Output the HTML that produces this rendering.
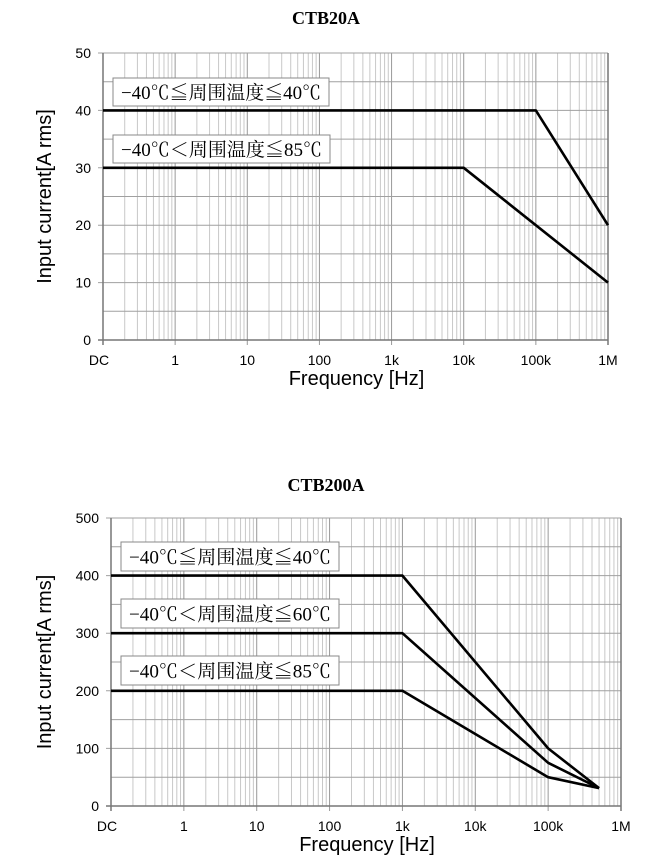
<!DOCTYPE html>
<html><head><meta charset="utf-8"><style>
body{margin:0;background:#fff;width:652px;height:862px;overflow:hidden}
svg{display:block}
.t{font-family:"Liberation Serif","Noto Serif CJK SC",serif;font-size:18px;font-weight:bold}
.tk{font-family:"Liberation Sans",sans-serif;font-size:14px}
.ax{font-family:"Liberation Sans",sans-serif;font-size:20px}
.lb{font-family:"Liberation Serif","Noto Serif CJK SC",serif;font-size:19px}
</style></head><body>
<svg id="s" width="652" height="862" xmlns="http://www.w3.org/2000/svg">
<text class="t" x="326" y="24" text-anchor="middle">CTB20A</text>
<text class="t" x="326" y="491" text-anchor="middle">CTB200A</text>
<g id="g1"></g><g id="g2"></g>
</svg>
<script>
function chart(g,L,R,T,B,ymax,ystep,ylab,curves,boxes,ticks){
  var s='';var dec=(R-L)/7;
  function X(f){return L+dec*(Math.log10(f)+1);}
  function Y(v){return B-(B-T)*v/ymax;}
  for(var d=-1;d<6;d++)for(var m=2;m<10;m++){var x=X(m*Math.pow(10,d));s+='<line x1="'+x+'" x2="'+x+'" y1="'+T+'" y2="'+B+'" stroke="#c8c8c8" stroke-width="1"/>';}
  for(var d=0;d<7;d++){var x=X(Math.pow(10,d));s+='<line x1="'+x+'" x2="'+x+'" y1="'+T+'" y2="'+(B+5)+'" stroke="#999" stroke-width="1"/>';}
  for(var v=ystep/2;v<=ymax;v+=ystep/2){var y=Y(v);s+='<line x1="'+(L-5*(Math.round(v/ystep*2)%2==0))+'" x2="'+R+'" y1="'+y+'" y2="'+y+'" stroke="#a0a0a0" stroke-width="1"/>';}
  s+='<line x1="'+L+'" x2="'+L+'" y1="'+T+'" y2="'+B+'" stroke="#777" stroke-width="1.5"/>';
  s+='<line x1="'+(L-5)+'" x2="'+R+'" y1="'+B+'" y2="'+B+'" stroke="#777" stroke-width="1.5"/>';
  s+='<line x1="'+L+'" x2="'+L+'" y1="'+B+'" y2="'+(B+5)+'" stroke="#777" stroke-width="1.5"/>';
  s+='<line x1="'+R+'" x2="'+R+'" y1="'+T+'" y2="'+(B+5)+'" stroke="#777" stroke-width="1.5"/>';
  for(var v=0;v<=ymax;v+=ystep){s+='<text class="tk" x="'+(L-12)+'" y="'+(Y(v)+5)+'" text-anchor="end">'+v+'</text>';}
  var tl=['DC','1','10','100','1k','10k','100k','1M'];
  for(var i=0;i<8;i++){var x=L+dec*i;s+='<text class="tk" x="'+(i==0?x-4:x)+'" y="'+(B+25)+'" text-anchor="middle">'+tl[i]+'</text>';}
  s+='<text class="ax" x="'+((L+R)/2+1)+'" y="'+(B+45)+'" text-anchor="middle">Frequency [Hz]</text>';
  s+='<text class="ax" transform="translate(51,'+((T+B)/2)+') rotate(-90)" text-anchor="middle">Input current[A rms]</text>';
  curves.forEach(function(c){var p=c.map(function(q){return X(q[0])+','+Y(q[1]);}).join(' ');s+='<polyline points="'+p+'" fill="none" stroke="#000" stroke-width="2.6" stroke-linejoin="round"/>';});
  boxes.forEach(function(b){s+='<rect x="'+b[0]+'" y="'+b[1]+'" width="'+b[2]+'" height="'+b[3]+'" fill="#fff" stroke="#888" stroke-width="1"/>';s+='<text class="lb" x="'+(b[0]+b[2]/2)+'" y="'+(b[1]+b[3]/2+7)+'" text-anchor="middle" textLength="'+(b[2]-16)+'" lengthAdjust="spacingAndGlyphs">'+b[4]+'</text>';});
  document.getElementById(g).innerHTML=s;
}
chart('g1',103,608,53,340,50,10,'',[
 [[0.1,40],[1e5,40],[1e6,20]],
 [[0.1,30],[1e4,30],[1e6,10]]
],[[113,78,216,28,'−40℃≦周围温度≦40℃'],[113,135,217,28,'−40℃＜周围温度≦85℃']]);
chart('g2',111,621,518,806,500,100,'',[
 [[0.1,400],[1e3,400],[1e5,100],[5e5,31]],
 [[0.1,300],[1e3,300],[1e5,75],[5e5,31]],
 [[0.1,200],[1e3,200],[1e5,50],[5e5,31]]
],[[121,542,218,29,'−40℃≦周围温度≦40℃'],[121,599,218,29,'−40℃＜周围温度≦60℃'],[121,656,218,29,'−40℃＜周围温度≦85℃']]);
</script>
</body></html>
